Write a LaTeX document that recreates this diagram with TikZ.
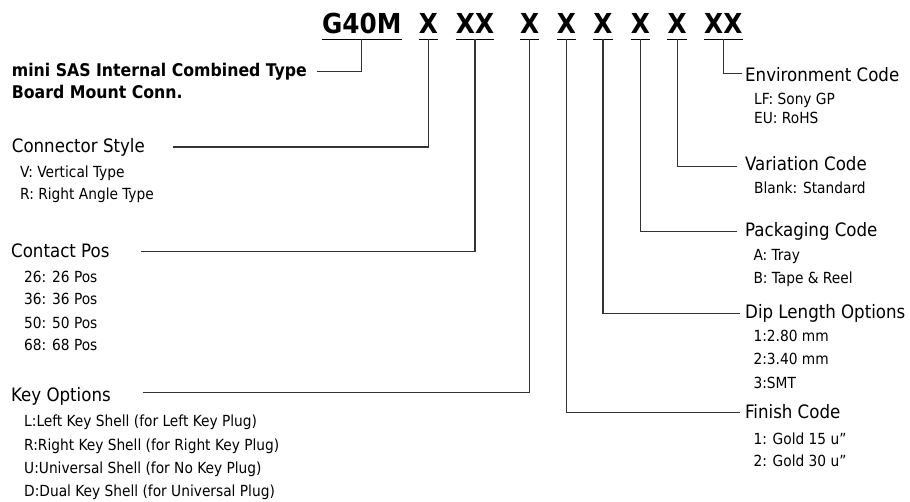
\documentclass[tikz,border=0pt]{standalone}
\usepackage{fontspec}
\setmainfont{DejaVu Sans Condensed}
\definecolor{ln}{HTML}{333333}
\begin{document}
\begin{tikzpicture}[x=1pt,y=-1pt,
 code/.style={anchor=base,inner sep=0pt,font=\fontsize{27.5}{27.5}\selectfont\bfseries},
 head/.style={anchor=base west,inner sep=0pt,font=\fontsize{18.5}{18.5}\selectfont},
 sub/.style={anchor=base west,inner sep=0pt,font=\fontsize{15.3}{15.3}\selectfont},
 ttl/.style={anchor=base west,inner sep=0pt,font=\fontsize{17.5}{17.5}\selectfont\bfseries},
 conn/.style={draw=ln,line width=1.4pt},
 uline/.style={draw=black,line width=1.6pt}]
\useasboundingbox (0,0) rectangle (910,502);
% code letters
\node[code] (g) at (361.7,34) {G40M};
\node[code] (c1) at (428.3,34) {X};
\node[code] (c2) at (475,34) {XX};
\node[code] (c3) at (529.7,34) {X};
\node[code] (c4) at (566.3,34) {X};
\node[code] (c5) at (603,34) {X};
\node[code] (c6) at (640.3,34) {X};
\node[code] (c7) at (677.2,34) {X};
\node[code] (c8) at (723.3,34) {XX};
\foreach \n in {g,c1,c2,c3,c4,c5,c6,c7,c8}{
  \draw[uline] ([yshift=-5.5pt]\n.base west) -- ([yshift=-5.5pt]\n.base east);
  \coordinate (t\n) at ([yshift=-5.5pt]\n.base);
}
% left texts
\node[ttl] (t1) at (11.7,76.7) {mini SAS Internal Combined Type};
\node[ttl] (t2) at (11.7,98.3) {Board Mount Conn.};
\node[head] (cs) at (11.7,153) {Connector Style};
\node[sub] (cs1) at (20,177.7) {V: Vertical Type};
\node[sub] (cs2) at (20,200) {R: Right Angle Type};
\node[head] (cp) at (11,257.3) {Contact Pos};
\node[sub] (cp1) at (24,282.3) {26: 26 Pos};
\node[sub] (cp2) at (24,305) {36: 36 Pos};
\node[sub] (cp3) at (24,328.3) {50: 50 Pos};
\node[sub] (cp4) at (24,351) {68: 68 Pos};
\node[head] (ko) at (11,401.7) {Key Options};
\node[sub] (ko1) at (24,426.7) {L:Left Key Shell (for Left Key Plug)};
\node[sub] (ko2) at (24,450) {R:Right Key Shell (for Right Key Plug)};
\node[sub] (ko3) at (24,473.3) {U:Universal Shell (for No Key Plug)};
\node[sub] (ko4) at (24,496) {D:Dual Key Shell (for Universal Plug)};
% right texts
\node[head] (env) at (745,81.7) {Environment Code};
\node[sub] (env1) at (754,105) {LF: Sony GP};
\node[sub] (env2) at (754,123.3) {EU: RoHS};
\node[head] (var) at (745,170.5) {Variation Code};
\node[sub] (var1) at (754,193.3) {Blank: Standard};
\node[head] (pak) at (745,237) {Packaging Code};
\node[sub] (pak1) at (753.3,260.7) {A: Tray};
\node[sub] (pak2) at (753.3,283.3) {B: Tape \& Reel};
\node[head] (dip) at (745,318.3) {Dip Length Options};
\node[sub] (dip1) at (753.3,341.7) {1:2.80 mm};
\node[sub] (dip2) at (753.3,365) {2:3.40 mm};
\node[sub] (dip3) at (753.3,388.3) {3:SMT};
\node[head] (fin) at (745,418.3) {Finish Code};
\node[sub] (fin1) at (753.3,444) {1: Gold 15 u”};
\node[sub] (fin2) at (753.3,466.7) {2: Gold 30 u”};
% free ends of connectors
\coordinate (eg) at (316.7,71.7);
\coordinate (e1) at (173,147);
\coordinate (e2) at (140.7,251.7);
\coordinate (e3) at (142.7,392.3);
\coordinate (e4) at (740,412.7);
\coordinate (e5) at (740,313.3);
\coordinate (e6) at (737,231.7);
\coordinate (e7) at (737.3,166.7);
\coordinate (e8) at (741.7,73.3);
% connectors
\draw[conn] (tg) |- (eg);
\draw[conn] (tc1) |- (e1);
\draw[conn] (tc2) |- (e2);
\draw[conn] (tc3) |- (e3);
\draw[conn] (tc4) |- (e4);
\draw[conn] (tc5) |- (e5);
\draw[conn] (tc6) |- (e6);
\draw[conn] (tc7) |- (e7);
\draw[conn] (tc8) |- (e8);
\end{tikzpicture}
\end{document}
